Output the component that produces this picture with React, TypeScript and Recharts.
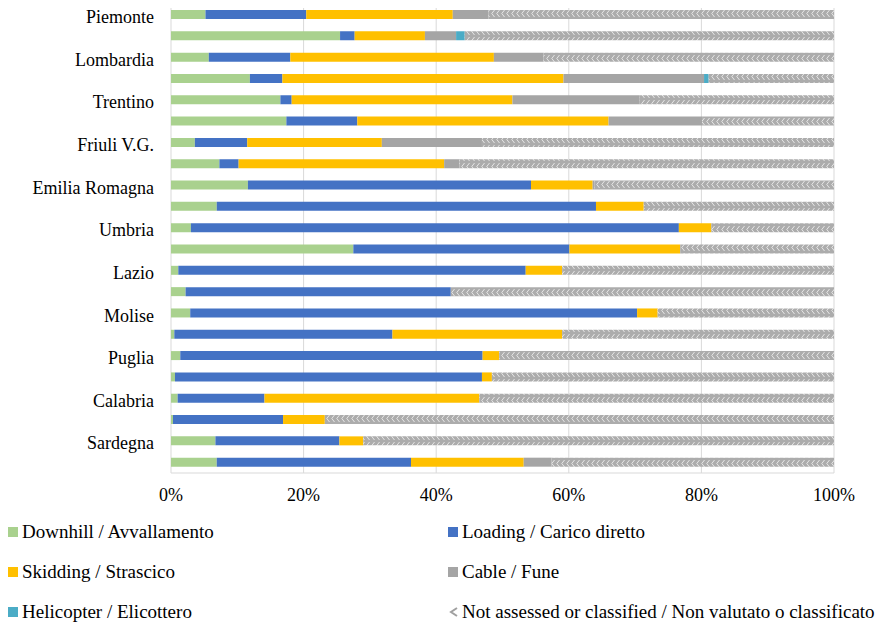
import { Bar, BarChart, CartesianGrid, XAxis, YAxis } from 'recharts';

const regions = [
  'Piemonte', '', 'Lombardia', '', 'Trentino', '', 'Friuli V.G.', '',
  'Emilia Romagna', '', 'Umbria', '', 'Lazio', '', 'Molise', '',
  'Puglia', '', 'Calabria', '', 'Sardegna', '',
];

const downhill = [5.2, 25.5, 5.7, 11.9, 16.5, 17.4, 3.6, 7.3, 11.6, 6.9, 3.0, 27.5, 1.1, 2.2, 2.9, 0.5, 1.4, 0.6, 1.0, 0.3, 6.7, 6.9];
const loading = [15.2, 2.2, 12.3, 4.9, 1.7, 10.7, 7.9, 2.9, 42.7, 57.2, 73.6, 32.6, 52.4, 40.0, 67.4, 32.9, 45.6, 46.3, 13.1, 16.6, 18.7, 29.3];
const skidding = [22.1, 10.6, 30.7, 42.4, 33.3, 37.9, 20.3, 31.0, 9.3, 7.2, 4.9, 16.7, 5.5, 0, 3.1, 25.6, 2.5, 1.5, 32.4, 6.3, 3.6, 17.0];
const cable = [5.4, 4.7, 7.5, 21.2, 19.2, 14.1, 15.1, 2.3, 0.3, 0, 0, 0, 0, 0, 0, 0, 0, 0, 0, 0, 0, 4.2];
const helicopter = [0, 1.3, 0, 0.7, 0, 0, 0, 0, 0, 0, 0, 0, 0, 0, 0, 0, 0, 0, 0, 0, 0, 0];
const notAssessed = [52.1, 55.7, 43.8, 18.9, 29.3, 19.9, 53.1, 56.5, 36.1, 28.7, 18.5, 23.2, 41.0, 57.8, 26.6, 41.0, 50.5, 51.6, 53.5, 76.8, 71.0, 42.6];

const xTicks = [0, 20, 40, 60, 80, 100];

const series = [
  { key: 'downhill', name: 'Downhill / Avvallamento', color: '#a9d18e' },
  { key: 'loading', name: 'Loading / Carico diretto', color: '#4472c4' },
  { key: 'skidding', name: 'Skidding / Strascico', color: '#ffc000' },
  { key: 'cable', name: 'Cable / Fune', color: '#a5a5a5' },
  { key: 'helicopter', name: 'Helicopter / Elicottero', color: '#4bacc6' },
  { key: 'notAssessed', name: 'Not assessed or classified / Non valutato o classificato', color: 'url(#hatch)' },
];

const data = regions.map((label, i) => ({
  id: i,
  label,
  downhill: downhill[i],
  loading: loading[i],
  skidding: skidding[i],
  cable: cable[i],
  helicopter: helicopter[i],
  notAssessed: notAssessed[i],
}));

const FONT = '"Liberation Serif", "Times New Roman", serif';

function LegendIcon({ color }: { color: string }) {
  if (color.startsWith('url')) {
    return (
      <svg width={12} height={12} style={{ marginRight: 2 }}>
        <path d="M9 2 L3 6 L9 10" stroke="#a0a0a0" strokeWidth={2} fill="none" />
      </svg>
    );
  }
  return <span style={{ display: 'inline-block', width: 10, height: 10, background: color, marginRight: 4 }} />;
}

export default function App() {
  return (
    <div style={{ position: 'relative', width: 884, height: 626, margin: '-8px 0 0 -8px', background: '#fff', fontFamily: FONT }}>
      <BarChart
        width={884}
        height={626}
        data={data}
        layout="vertical"
        margin={{ top: 4, right: 50, bottom: 123, left: 0 }}
        barSize={9}
      >
        <defs>
          <pattern id="hatch" width={5} height={9} patternUnits="userSpaceOnUse">
            <rect width={5} height={9} fill="#acacac" />
            <path d="M4.5 1 L1.8 4.5 L4.5 8" stroke="#f4f4f4" strokeWidth={0.8} fill="none" />
          </pattern>
        </defs>
        <CartesianGrid
          stroke="#d9d9d9"
          horizontalCoordinatesGenerator={({ offset }: any) => [offset.top, offset.top + offset.height]}
        />
        <XAxis
          type="number"
          domain={[0, 100]}
          ticks={xTicks}
          tickFormatter={(v: number) => `${v}%`}
          axisLine={false}
          tickLine={false}
          tickMargin={9}
          height={30}
          tick={{ fill: '#000', fontSize: 18, fontFamily: FONT }}
          allowDataOverflow
        />
        <YAxis
          type="category"
          dataKey="id"
          width={171}
          axisLine={false}
          tickLine={false}
          tickSize={0}
          tickMargin={17}
          interval={0}
          tickFormatter={(v: number) => regions[v]}
          tick={{ fill: '#000', fontSize: 18, fontFamily: FONT, dy: 2 }}
        />
        {series.map((s) => (
          <Bar key={s.key} dataKey={s.key} name={s.name} stackId="a" fill={s.color} isAnimationActive={false} />
        ))}
      </BarChart>
      <div
        style={{
          position: 'absolute',
          top: 520,
          left: 8,
          width: 876,
          display: 'grid',
          gridTemplateColumns: '440px 436px',
          rowGap: 17,
          fontSize: 19,
          lineHeight: '23px',
          color: '#000',
        }}
      >
        {[0, 1, 2, 3, 4, 5].map((idx) => {
          const s = series[idx];
          return (
            <div key={s.key} style={{ display: 'flex', alignItems: 'center', whiteSpace: 'nowrap' }}>
              <LegendIcon color={s.color} />
              {s.name}
            </div>
          );
        })}
      </div>
    </div>
  );
}
